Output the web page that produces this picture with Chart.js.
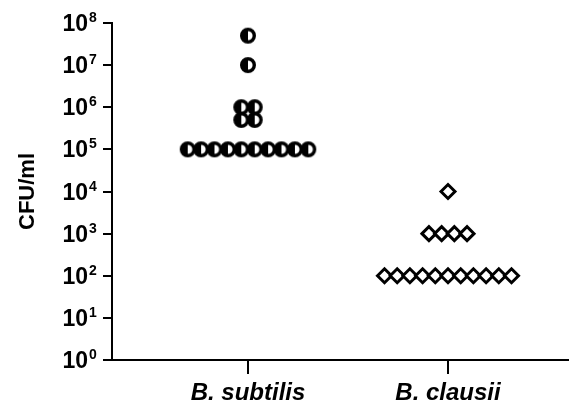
<!DOCTYPE html>
<html>
<head>
<meta charset="utf-8">
<script src="https://cdn.jsdelivr.net/npm/chart.js@4/dist/chart.umd.min.js"></script>
<style>
  html, body { margin: 0; padding: 0; background: #fff; }
  #wrap { width: 570px; height: 404px; }
</style>
</head>
<body>
<div id="wrap"><canvas id="c" width="570" height="404"></canvas></div>
<script>
// Dot plot of CFU/ml per strain, log y axis

const categories = ['B. subtilis', 'B. clausii'];
const subtilisValues = [5e7, 1e7, 1e6, 1e6, 5e5, 5e5,
    1e5, 1e5, 1e5, 1e5, 1e5, 1e5, 1e5, 1e5, 1e5, 1e5];
const clausiiValues = [1e4, 1e3, 1e3, 1e3, 1e3,
    1e2, 1e2, 1e2, 1e2, 1e2, 1e2, 1e2, 1e2, 1e2, 1e2, 1e2];
const yExponents = [0, 1, 2, 3, 4, 5, 6, 7, 8];

const FONT = '"Liberation Sans", Arial, Helvetica, sans-serif';

// spread points with equal value side by side around the category centre
function spread(values, center, step) {
    const groups = {};
    values.forEach(v => { groups[v] = (groups[v] || 0) + 1; });
    const seen = {};
    return values.map(v => {
        const n = groups[v];
        const i = seen[v] = (seen[v] === undefined ? 0 : seen[v] + 1);
        return { x: center + (i - (n - 1) / 2) * step, y: v };
    });
}

// half filled circle marker
function halfCircle(r) {
    const s = Math.ceil(r * 2 + 5);
    const cv = document.createElement('canvas');
    cv.width = s; cv.height = s;
    const g = cv.getContext('2d');
    const c = s / 2;
    g.beginPath(); g.arc(c, c, r, 0, Math.PI * 2);
    g.fillStyle = '#fff'; g.fill();
    g.beginPath(); g.arc(c, c, r, Math.PI / 2, Math.PI * 1.5);
    g.closePath(); g.fillStyle = '#000'; g.fill();
    g.beginPath(); g.arc(c, c, r, 0, Math.PI * 2);
    g.lineWidth = 3.4; g.strokeStyle = '#000'; g.stroke();
    return cv;
}

// y labels as 10 with superscript exponent
const powerLabels = {
    id: 'powerLabels',
    afterDraw(chart) {
        const ctx = chart.ctx;
        const y = chart.scales.y;
        ctx.save();
        ctx.fillStyle = '#000';
        yExponents.forEach(e => {
            const py = y.getPixelForValue(Math.pow(10, e));
            ctx.font = 'bold 23px ' + FONT;
            ctx.textAlign = 'right';
            ctx.textBaseline = 'alphabetic';
            ctx.fillText('10', 88, py + 8);
            ctx.font = 'bold 14px ' + FONT;
            ctx.textAlign = 'left';
            ctx.fillText(String(e), 89, py - 1);
        });
        ctx.restore();
    }
};

const chart = new Chart(document.getElementById('c').getContext('2d'), {
    type: 'scatter',
    data: {
        datasets: [
            {
                label: categories[0],
                data: spread(subtilisValues, 1, 0.067),
                pointStyle: halfCircle(6.3),
                pointRadius: 7
            },
            {
                label: categories[1],
                data: spread(clausiiValues, 2, 0.0635),
                pointStyle: 'rectRot',
                pointRadius: 7,
                backgroundColor: '#fff',
                borderColor: '#000',
                borderWidth: 3
            }
        ]
    },
    options: {
        responsive: false,
        animation: false,
        layout: { autoPadding: false, padding: { top: 23, right: 2, left: 0, bottom: 0 } },
        plugins: {
            legend: { display: false },
            tooltip: { enabled: false }
        },
        scales: {
            x: {
                type: 'linear',
                min: 0.32,
                max: 2.6,
                afterBuildTicks: s => { s.ticks = [{ value: 1 }, { value: 2 }]; },
                afterFit: s => { s.height = 44; s.paddingLeft = 0; s.paddingRight = 0; },
                grid: { drawOnChartArea: false, drawTicks: true, tickLength: 14, color: '#000', lineWidth: 2 },
                border: { display: true, color: '#000', width: 2 },
                ticks: {
                    padding: 5,
                    color: '#000',
                    font: { family: FONT, size: 24, weight: 'bold', style: 'italic' },
                    callback: (v, i) => categories[i]
                }
            },
            y: {
                type: 'logarithmic',
                min: 1,
                max: 1e8,
                afterBuildTicks: s => { s.ticks = yExponents.map(e => ({ value: Math.pow(10, e) })); },
                afterFit: s => { s.width = 112; },
                grid: { drawOnChartArea: false, drawTicks: true, tickLength: 9, color: '#000', lineWidth: 2 },
                border: { display: true, color: '#000', width: 2 },
                ticks: { display: false },
                title: {
                    display: true,
                    text: 'CFU/ml',
                    color: '#000',
                    font: { family: FONT, size: 22, weight: 'bold' },
                    padding: { top: 15, bottom: 0 }
                }
            }
        }
    },
    plugins: [powerLabels]
});
</script>
</body>
</html>
